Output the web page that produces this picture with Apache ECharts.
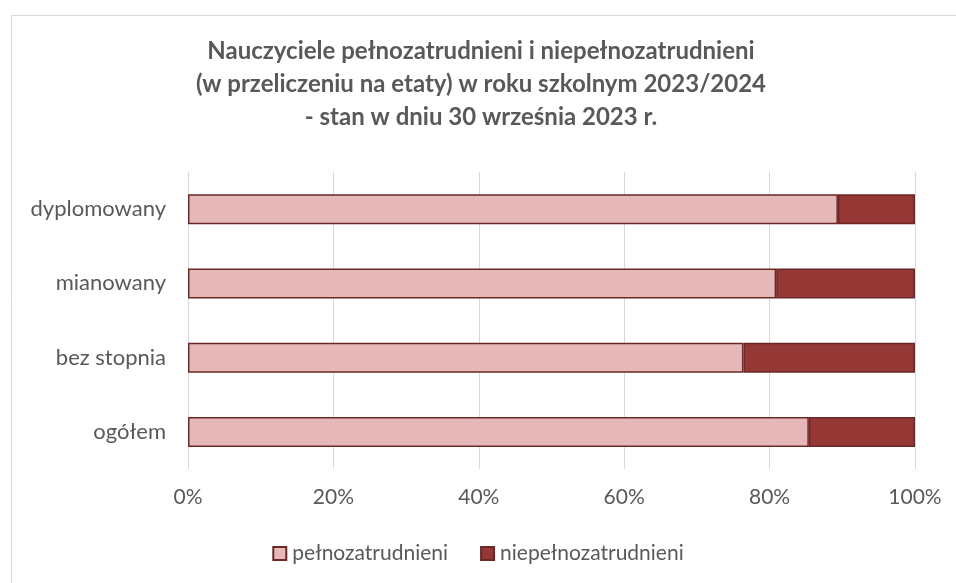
<!DOCTYPE html>
<html>
<head>
<meta charset="utf-8">
<script src="https://cdn.jsdelivr.net/npm/echarts@6/dist/echarts.min.js"></script>
<style>
  html, body { margin: 0; padding: 0; background: #fff; }
  #chart { width: 956px; height: 583px; }
</style>
</head>
<body>
<div id="chart"></div>
<script>
// dane z wykresu
var categories = ['dyplomowany', 'mianowany', 'bez stopnia', 'ogółem'];
var fullTime = [89.4, 80.9, 76.4, 85.4];
var partTime = [10.6, 19.1, 23.6, 14.6];
var xTicks = [0, 20, 40, 60, 80, 100];
var seriesNames = ['pełnozatrudnieni', 'niepełnozatrudnieni'];

var FONT = 'Lato';
var chart = echarts.init(document.getElementById('chart'));

var option = {
    backgroundColor: '#fff',
    textStyle: { fontFamily: FONT },
    title: {
        text: 'Nauczyciele pełnozatrudnieni i niepełnozatrudnieni\n(w przeliczeniu na etaty) w roku szkolnym 2023/2024\n- stan w dniu 30 września 2023 r.',
        left: 476,
        top: 30,
        textAlign: 'center',
        textStyle: {
            fontFamily: FONT,
            fontSize: 24,
            fontWeight: 'bold',
            color: '#595959',
            lineHeight: 33,
            align: 'center'
        }
    },
    graphic: [{
        type: 'rect',
        shape: { x: 11.5, y: 15.5, width: 960, height: 580 },
        style: { fill: 'none', stroke: '#D9D9D9', lineWidth: 1 },
        silent: true
    }],
    legend: {
        data: seriesNames,
        top: 538,
        left: 'center',
        icon: 'rect',
        itemWidth: 13,
        itemHeight: 13,
        itemGap: 32,
        textStyle: { fontFamily: FONT, fontSize: 21, color: '#595959', padding: [0, 0, 0, 1] }
    },
    grid: {
        left: 188,
        right: 41,
        top: 172,
        height: 297
    },
    xAxis: {
        type: 'value',
        min: xTicks[0],
        max: xTicks[xTicks.length - 1],
        interval: 20,
        axisLine: { show: false },
        axisTick: { show: false },
        splitLine: { lineStyle: { color: '#D9D9D9', width: 1 } },
        axisLabel: {
            formatter: '{value}%',
            fontFamily: FONT,
            fontSize: 21,
            color: '#595959',
            margin: 18
        }
    },
    yAxis: {
        type: 'category',
        data: categories,
        inverse: true,
        axisLine: { show: false },
        axisTick: { show: false },
        axisLabel: {
            fontFamily: FONT,
            fontSize: 22,
            color: '#595959',
            margin: 22
        }
    },
    series: [
        {
            name: seriesNames[0],
            type: 'bar',
            stack: 'all',
            data: fullTime,
            barWidth: 30,
            itemStyle: { color: '#E6B9B8', borderColor: '#6B2826', borderWidth: 1.5 }
        },
        {
            name: seriesNames[1],
            type: 'bar',
            stack: 'all',
            data: partTime,
            barWidth: 30,
            itemStyle: { color: '#953735', borderColor: '#6B2826', borderWidth: 1.5 }
        }
    ]
};

chart.setOption(option);
</script>
</body>
</html>
